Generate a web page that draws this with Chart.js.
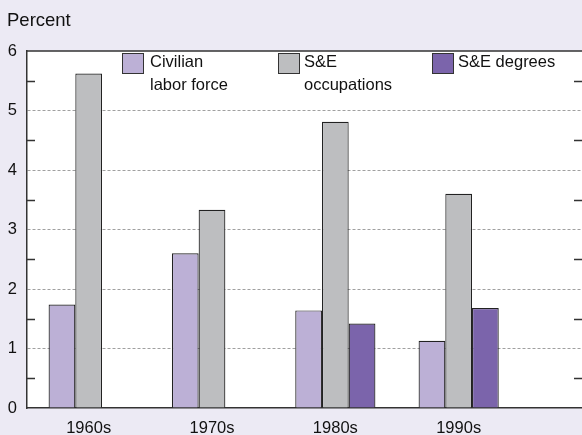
<!DOCTYPE html>
<html>
<head>
<meta charset="utf-8">
<script src="https://cdn.jsdelivr.net/npm/chart.js@4/dist/chart.umd.min.js"></script>
<style>
  html, body { margin: 0; padding: 0; background: #ECEAF4; overflow: hidden; }
  #wrap { position: relative; width: 582px; height: 435px; }
  canvas { position: absolute; left: 0; top: 0; }
  .lg { position: absolute; font-family: "Liberation Sans", Arial, sans-serif; font-size: 16.5px; line-height: 22.5px; color: #111; white-space: nowrap; }
  .sw { position: absolute; width: 20px; height: 19px; border: 1px solid #333; }
</style>
</head>
<body>
<div id="wrap">
  <canvas id="c" width="582" height="435"></canvas>
  <div class="sw" style="left:122px;top:53px;background:#BCB0D6"></div>
  <div class="lg" style="left:150px;top:50px">Civilian<br>labor force</div>
  <div class="sw" style="left:278px;top:53px;background:#BDBEC0"></div>
  <div class="lg" style="left:304px;top:50px">S&amp;E<br>occupations</div>
  <div class="sw" style="left:432px;top:53px;background:#7B64AB"></div>
  <div class="lg" style="left:458px;top:50px">S&amp;E degrees</div>
</div>
<script>
const categories = ['1960s', '1970s', '1980s', '1990s'];
const civilianLaborForce = [1.74, 2.60, 1.64, 1.13];
const seOccupations = [5.62, 3.33, 4.81, 3.60];
const seDegrees = [null, null, 1.42, 1.68];
const yTicks = [0, 1, 2, 3, 4, 5, 6];
const yMinorTicks = [0.5, 1.5, 2.5, 3.5, 4.5, 5.5];

const toPoints = arr => arr.map((v, i) => ({ x: i, y: v }));

const decor = {
  id: 'decor',
  beforeDraw(chart) {
    const { ctx, chartArea: a } = chart;
    ctx.save();
    ctx.fillStyle = '#FFFFFF';
    ctx.fillRect(a.left, a.top, a.right - a.left, a.bottom - a.top);
    ctx.restore();
  },
  afterDraw(chart) {
    const { ctx, chartArea: a } = chart;
    const y = chart.scales.y;
    ctx.save();
    ctx.strokeStyle = '#333';
    ctx.lineWidth = 1.5;
    ctx.beginPath();
    ctx.moveTo(a.left, a.top);
    ctx.lineTo(a.right, a.top);
    yMinorTicks.forEach(v => {
      const py = Math.round(y.getPixelForValue(v)) + 0.5;
      ctx.moveTo(a.left, py); ctx.lineTo(a.left + 8, py);
      ctx.moveTo(a.right - 8, py); ctx.lineTo(a.right, py);
    });
    ctx.stroke();
    ctx.restore();
  }
};

const font = { family: '"Liberation Sans", Arial, sans-serif', size: 16.5 };

new Chart(document.getElementById('c'), {
  type: 'bar',
  data: {
    datasets: [
      { label: 'Civilian labor force', data: toPoints(civilianLaborForce), backgroundColor: '#BCB0D6', borderColor: '#222', borderWidth: 1.2 },
      { label: 'S&E occupations', data: toPoints(seOccupations), backgroundColor: '#BDBEC0', borderColor: '#222', borderWidth: 1.2 },
      { label: 'S&E degrees', data: toPoints(seDegrees), backgroundColor: '#7B64AB', borderColor: '#222', borderWidth: 1.2 }
    ]
  },
  options: {
    responsive: false,
    animation: false,
    devicePixelRatio: 1,
    layout: { padding: { left: 7, right: 0, top: 0, bottom: 0 } },
    datasets: { bar: { categoryPercentage: 0.65, barPercentage: 1.0 } },
    plugins: {
      legend: { display: false },
      tooltip: { enabled: false },
      title: {
        display: true, text: 'Percent', align: 'start', color: '#111',
        font: { family: font.family, size: 18.5, weight: 'normal' },
        padding: { top: 9.4, bottom: 19.4 }
      }
    },
    scales: {
      x: {
        type: 'linear', min: -0.5, max: 4.0, offset: false,
        afterBuildTicks: s => { s.ticks = categories.map((_, i) => ({ value: i })); },
        afterFit: s => { s.height = 27; },
        grid: { display: false, drawTicks: false, offset: false },
        border: { display: true, color: '#333', width: 1.5 },
        ticks: { color: '#111', font: { ...font, lineHeight: 1 }, padding: 12, maxRotation: 0, autoSkip: false,
                 callback: v => categories[v] }
      },
      y: {
        min: 0, max: 6,
        afterBuildTicks: s => { s.ticks = yTicks.map(v => ({ value: v })); },
        afterFit: s => { s.width = 20; },
        grid: {
          drawTicks: false, lineWidth: 1,
          color: c => (c.tick && (c.tick.value === 0 || c.tick.value === 6)) ? 'rgba(0,0,0,0)' : '#a0a0a0'
        },
        border: { display: true, color: '#333', width: 1.5, dash: [3, 2] },
        ticks: { color: '#111', font, padding: 10 }
      }
    }
  },
  plugins: [decor]
});
</script>
</body>
</html>
